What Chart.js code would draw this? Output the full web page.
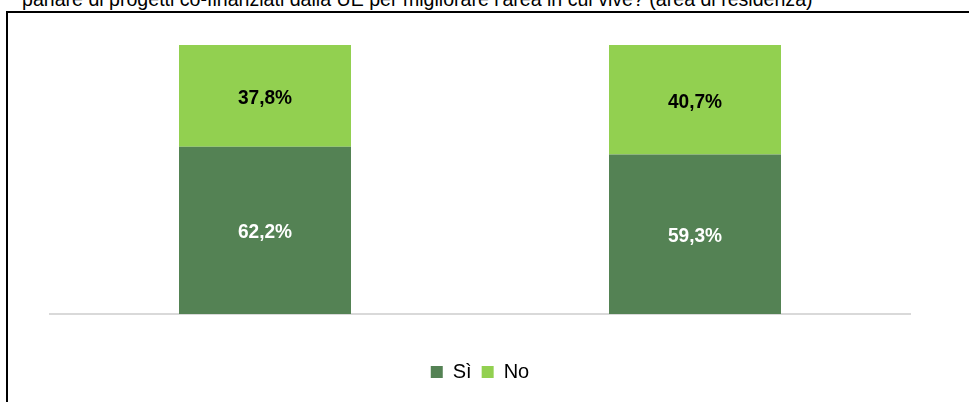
<!DOCTYPE html>
<html>
<head>
<meta charset="utf-8">
<script src="https://cdn.jsdelivr.net/npm/chart.js@4"></script>
<style>
  html, body { margin: 0; padding: 0; background: #fff; overflow: hidden; }
  #wrap { position: relative; width: 969px; height: 402px; }
  #title {
    position: absolute; left: 22px; top: -11px; white-space: nowrap;
    font-family: 'Liberation Sans', Arial, sans-serif;
    font-size: 20px; line-height: 20px; color: #000;
    transform-origin: 0 0;
  }
  #frame {
    position: absolute; left: 6px; top: 11px; width: 1000px; height: 500px;
    border: 2px solid #000; box-sizing: border-box;
  }
  #myChart { position: absolute; left: 0; top: 0; }
</style>
</head>
<body>
<div id="wrap">
  <div id="title">parlare di progetti co-finanziati dalla UE per migliorare l'area in cui vive? (area di residenza)</div>
  <div id="frame"></div>
  <canvas id="myChart" width="969" height="402"></canvas>
</div>
<script>
const ctx = document.getElementById('myChart').getContext('2d');

const FONT = "'Liberation Sans', Arial, sans-serif";

// categories have no visible label in the picture
const labels = ['', ''];

const si = [62.2, 59.3];
const no = [37.8, 40.7];

const data = {
	labels,
	datasets: [{
		label: 'Sì',
		data: si,
		backgroundColor: '#548254',
		labelColor: '#fff'
	}, {
		label: 'No',
		data: no,
		backgroundColor: '#92d050',
		labelColor: '#000'
	}]
}

// the original uses a narrow font, squeeze the title a bit
const title = document.getElementById('title');
title.style.transform = 'scaleX(' + (791 / title.offsetWidth) + ')';

// percentages written in the middle of each segment
const segmentLabels = {
	id: 'segmentLabels',
	afterDatasetsDraw(chart) {
		const c = chart.ctx;
		chart.data.datasets.forEach((ds, i) => {
			chart.getDatasetMeta(i).data.forEach((bar, j) => {
				const txt = ds.data[j].toFixed(1).replace('.', ',') + '%';
				c.save();
				c.translate(bar.x, (bar.y + bar.base) / 2 + 2);
				c.scale(0.91, 1);
				c.font = 'bold 21px ' + FONT;
				c.textAlign = 'center';
				c.textBaseline = 'middle';
				c.fillStyle = ds.labelColor;
				c.fillText(txt, 0, 0);
				c.restore();
			});
		});
	}
}

const config = {
	type: 'bar',
	data: data,
	plugins: [segmentLabels],
	options: {
		responsive: false,
		animation: false,
		layout: {
			padding: { left: 50, right: 59, top: 45, bottom: 10 }
		},
		datasets: {
			bar: { categoryPercentage: 0.4, barPercentage: 1 }
		},
		plugins: {
			legend: {
				position: 'bottom',
				labels: {
					boxWidth: 12,
					boxHeight: 12,
					padding: 10,
					color: '#000',
					font: { family: FONT, size: 20 }
				}
			},
			tooltip: { enabled: false }
		},
		scales: {
			x: {
				stacked: true,
				grid: { display: false, drawTicks: false },
				ticks: { display: false },
				border: { color: '#d9d9d9', width: 2 },
				afterFit(scale) { scale.height = 38; }
			},
			y: {
				stacked: true,
				display: false,
				min: 0,
				max: 100
			}
		}
	}
}

const myChart = new Chart(ctx, config);
</script>
</body>
</html>
